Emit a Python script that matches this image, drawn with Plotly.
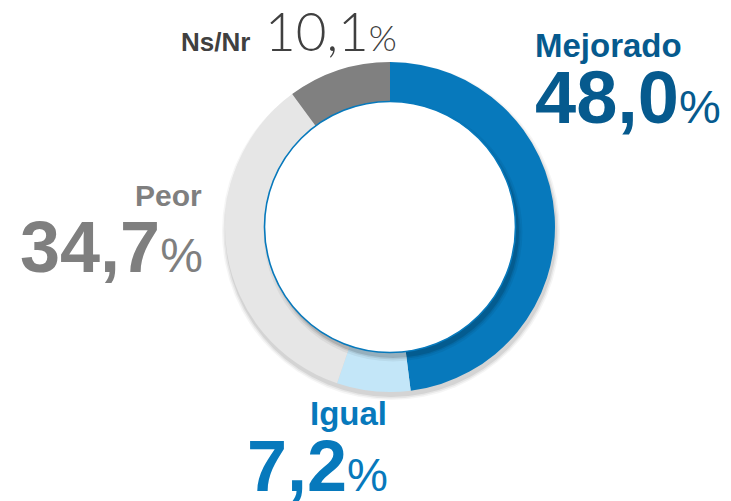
import plotly.graph_objects as go

categories = ["Mejorado", "Igual", "Peor", "Ns/Nr"]
values = [48.0, 7.2, 34.7, 10.1]
value_labels = ["48,0", "7,2", "34,7", "10,1"]
slice_colors = ["#0779BC", "#C3E6F8", "#E6E6E6", "#808080"]

W, H = 731, 501
CX, CY, R_OUT, R_IN = 390, 227, 165, 125.5


def px(x):
    return x / W


def py(y):
    return 1 - y / H


fig = go.Figure()
fig.add_trace(go.Pie(
    labels=categories, values=values, sort=False, direction="clockwise",
    rotation=0, hole=0.75, textinfo="none", hoverinfo="label+percent",
    marker=dict(colors=slice_colors, line=dict(width=0)),
    domain=dict(x=[px(CX - R_OUT), px(CX + R_OUT)],
                y=[py(CY + R_OUT), py(CY - R_OUT)]),
    showlegend=False,
))

shapes = []
# outer soft shadow (below the ring)
for dr, op in [(4, 0.04), (2.5, 0.06), (1, 0.08)]:
    r = R_OUT + dr
    shapes.append(dict(type="circle", xref="paper", yref="paper", layer="below",
                       x0=px(CX - r + 1), x1=px(CX + r + 1),
                       y0=py(CY + r + 4), y1=py(CY - r + 4),
                       fillcolor=f"rgba(0,0,0,{op})", line=dict(width=0)))
# inner circle shadow falling on the ring
for dr, op in [(4, 0.05), (2, 0.08), (0.5, 0.12)]:
    r = R_IN + dr
    shapes.append(dict(type="circle", xref="paper", yref="paper", layer="above",
                       x0=px(CX - r + 3), x1=px(CX + r + 3),
                       y0=py(CY + r + 5), y1=py(CY - r + 5),
                       fillcolor=f"rgba(0,0,0,{op})", line=dict(width=0)))
# white inner disc with blue rim
shapes.append(dict(type="circle", xref="paper", yref="paper", layer="above",
                   x0=px(CX - R_IN), x1=px(CX + R_IN),
                   y0=py(CY + R_IN), y1=py(CY - R_IN),
                   fillcolor="white", line=dict(color="#0779BC", width=1.6)))

BOLD = "Liberation Sans"


def ann(text, x, baseline, size, color, anchor="left", family=BOLD, weight="bold", desc=0.212):
    return dict(text=text, xref="paper", yref="paper", showarrow=False,
                x=px(x), y=py(baseline + desc * size), xanchor=anchor, yanchor="bottom",
                borderpad=0, borderwidth=0,
                font=dict(family=family, size=size, color=color, weight=weight))


def pct(size):
    return f"<span style='font-size:{size}px;font-weight:normal'>%</span>"


annotations = [
    # Mejorado
    ann(categories[0], 535, 57, 33, "#065A8E"),
    ann(f"{value_labels[0]}{pct(47)}", 535, 123, 74, "#065A8E"),
    # Igual
    ann(categories[1], 310, 425, 33, "#0779BC"),
    ann(f"{value_labels[1]}{pct(46)}", 247, 491, 72, "#0779BC"),
    # Peor
    ann(categories[2], 202, 206, 30, "#7F7F7F", anchor="right"),
    ann(f"{value_labels[2]}{pct(48)}", 203, 272, 72, "#7F7F7F", anchor="right"),
    # Ns/Nr
    ann(categories[3], 181, 51, 26, "#404040"),
    ann(f"{value_labels[3]}<span style='font-size:36px'>%</span>", 265, 51, 53, "#404040",
        family="Lato", weight=300, desc=0.213),
]

fig.update_layout(
    width=W, height=H, margin=dict(l=0, r=0, t=0, b=0),
    paper_bgcolor="white", plot_bgcolor="white",
    shapes=shapes, annotations=annotations,
)

fig.write_html("out.html", config={"displayModeBar": False},
               post_script="document.body.style.margin='0';")
